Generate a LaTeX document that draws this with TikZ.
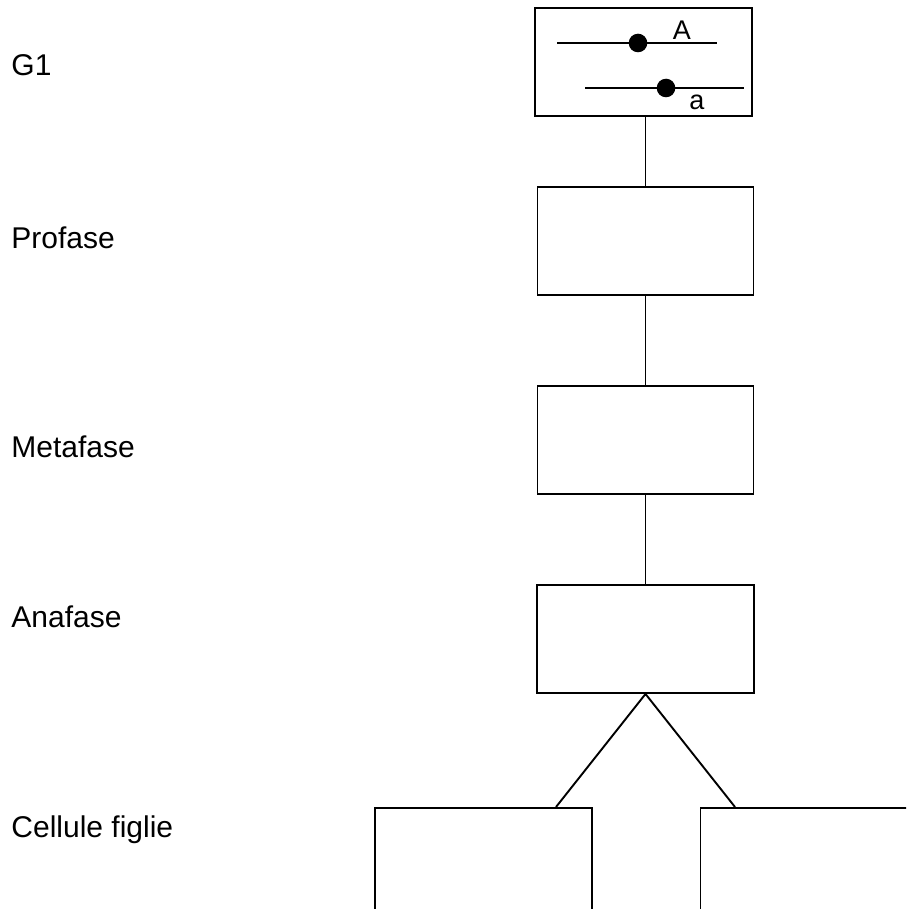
\documentclass[tikz,border=0pt]{standalone}
\usepackage{fontspec}
\setmainfont{Liberation Sans}
\begin{document}
\begin{tikzpicture}[x=1pt,y=-1pt,line width=1.9pt,
  cellbox/.style={draw,inner sep=0pt,minimum width=216pt,minimum height=108pt},
  phase/.style={anchor=base west,inner sep=0pt,font=\fontsize{30}{36}\selectfont},
  allele/.style={anchor=base west,inner sep=0pt,font=\fontsize{27}{32}\selectfont},
  chromo/.style={line width=1.9pt},
  centro/.style={fill=black}]
\useasboundingbox (0,0) rectangle (906,909);
\clip (0,0) rectangle (906,909);

% phase names
\node[phase] (tG1)   at (10.5,76)  {G1};
\node[phase] (tPro)  at (10.5,248) {Profase};
\node[phase] (tMeta) at (10.5,457) {Metafase};
\node[phase] (tAna)  at (10.5,627) {Anafase};
\node[phase] (tFig)  at (10.5,837) {Cellule figlie};

% cells
\node[cellbox,minimum width=217pt,minimum height=108.5pt] (g1) at (643.5,62) {};
\node[cellbox] (pro)  at (645.5,241) {};
\node[cellbox] (meta) at (645.5,440) {};
\node[cellbox,minimum width=217pt] (ana)  at (645.5,639) {};
\node[cellbox,minimum width=217pt,anchor=north west] (fig1) at (374,807) {};
\node[cellbox,minimum width=217pt,anchor=north west] (fig2) at (699.5,807) {};

% homologous chromosomes in G1
\coordinate (c1a) at (557,43);  \coordinate (c1b) at (717,43);
\coordinate (c2a) at (585,88);  \coordinate (c2b) at (744,88);
\draw[chromo] (c1a) -- (c1b);
\draw[chromo] (c2a) -- (c2b);
\fill[centro] (638,43) circle (9.3);
\fill[centro] (666,88) circle (9.3);
\node[allele] (lA) at (672,40)    {A};
\node[allele] (la) at (688.5,110) {a};

% connections between stages
\draw (pro.north) -- (pro.north |- g1.south);
\draw (meta.north) -- (pro.south);
\draw (ana.north) -- (meta.south);
\coordinate (j1) at (556,807);
\coordinate (j2) at (735,807);
\draw (j1) -- (ana.south) -- (j2);
\end{tikzpicture}
\end{document}
